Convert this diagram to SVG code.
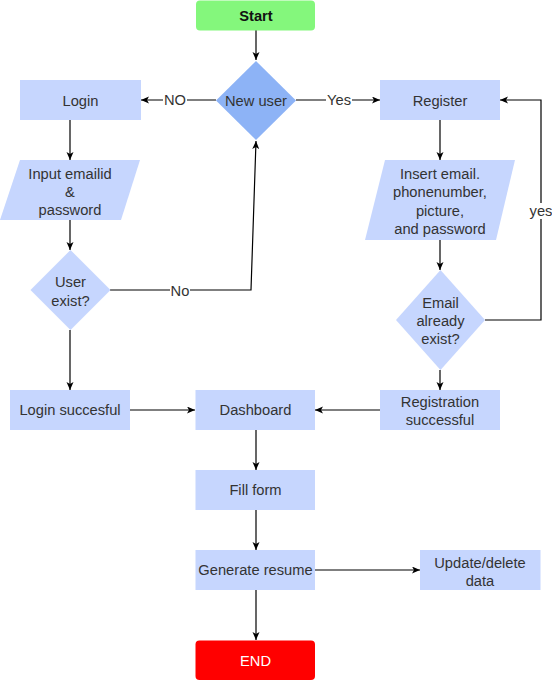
<svg xmlns="http://www.w3.org/2000/svg" width="552" height="681" viewBox="0 0 552 681">
<defs>
<marker id="ah" markerUnits="userSpaceOnUse" markerWidth="10" markerHeight="8" refX="8" refY="3.5" orient="auto">
<path d="M0,0 L8,3.5 L0,7 L2,3.5 Z" fill="#000"/>
</marker>
<style>
.box{fill:#C6D6FE;stroke:none}
.dk{fill:#8DB3F6;stroke:none}
.t{font-family:"Liberation Sans",Arial,sans-serif;font-size:14.7px;fill:#333;text-anchor:middle}
.c{fill:none;stroke:#000;stroke-width:1.2;marker-end:url(#ah)}
.cn{fill:none;stroke:#000;stroke-width:1.2}
.lb{fill:#fff}
</style>
</defs>
<rect width="552" height="681" fill="#fff"/>
<g id="connectors">
<path class="c" d="M256,30 L256,60"/>
<path class="c" d="M216,100 L141,100"/>
<path class="c" d="M296,100 L380,100"/>
<path class="c" d="M70,120 L70,160"/>
<path class="c" d="M70,220 L70,250"/>
<path class="c" d="M110,290 L251,290 L256,141"/>
<path class="c" d="M70,330 L70,390"/>
<path class="c" d="M440,120 L440,160"/>
<path class="c" d="M440,240 L440,270"/>
<path class="c" d="M485,320 L541,320 L541,100 L500,100"/>
<path class="c" d="M440,370 L440,390"/>
<path class="c" d="M130,410 L195,410"/>
<path class="c" d="M380,410 L315,410"/>
<path class="c" d="M256,430 L256,470"/>
<path class="c" d="M256,510 L256,550"/>
<path class="c" d="M315,570 L420,570"/>
<path class="c" d="M256,590 L256,640"/>
<rect class="lb" x="163" y="92" width="24" height="16"/>
<text class="t" x="175" y="105">NO</text>
<rect class="lb" x="326" y="92" width="26" height="16"/>
<text class="t" x="339" y="105">Yes</text>
<rect class="lb" x="170" y="282" width="20" height="16"/>
<text class="t" x="180" y="296">No</text>
<rect class="lb" x="529" y="203" width="24" height="16"/>
<text class="t" x="541" y="216">yes</text>
</g>
<g id="start">
<rect x="196" y="0.5" width="119" height="30" rx="4" fill="#84F77C"/>
<text class="t" x="256" y="21" style="font-weight:bold;fill:#111">Start</text>
</g>
<g id="newuser">
<polygon class="dk" points="256,61 296,100.5 256,140 216,100.5"/>
<text class="t" x="256" y="106">New user</text>
</g>
<g id="login">
<rect class="box" x="20" y="80" width="121" height="40"/>
<text class="t" x="80.5" y="106">Login</text>
</g>
<g id="register">
<rect class="box" x="380" y="80" width="120" height="40"/>
<text class="t" x="440" y="106">Register</text>
</g>
<g id="input">
<polygon class="box" points="20,160 140,160 121,220 0,220"/>
<text class="t" x="70" y="179">Input emailid</text>
<text class="t" x="70" y="197">&amp;</text>
<text class="t" x="70" y="215">password</text>
</g>
<g id="insert">
<polygon class="box" points="385,160 515,160 496,240 365,240"/>
<text class="t" x="440" y="178.5">Insert email.</text>
<text class="t" x="440" y="197">phonenumber,</text>
<text class="t" x="440" y="216">picture,</text>
<text class="t" x="440" y="234">and password</text>
</g>
<g id="userexist">
<polygon class="box" points="70.5,250 110.5,290 70.5,330 30.5,290"/>
<text class="t" x="70.5" y="287">User</text>
<text class="t" x="70.5" y="306">exist?</text>
</g>
<g id="emailexist">
<polygon class="box" points="440.5,270 485,320 440.5,370 396,320"/>
<text class="t" x="440.5" y="308">Email</text>
<text class="t" x="440.5" y="326">already</text>
<text class="t" x="440.5" y="344">exist?</text>
</g>
<g id="loginsuccess">
<rect class="box" x="10" y="390" width="120" height="40"/>
<text class="t" x="70" y="415">Login succesful</text>
</g>
<g id="dashboard">
<rect class="box" x="195.5" y="390" width="119.5" height="40"/>
<text class="t" x="255.5" y="415">Dashboard</text>
</g>
<g id="regsuccess">
<rect class="box" x="380" y="390" width="120" height="40"/>
<text class="t" x="440" y="407">Registration</text>
<text class="t" x="440" y="425">successful</text>
</g>
<g id="fillform">
<rect class="box" x="195.5" y="470" width="119.5" height="40"/>
<text class="t" x="255.5" y="495">Fill form</text>
</g>
<g id="generate">
<rect class="box" x="195.5" y="550" width="119.5" height="40"/>
<text class="t" x="255.5" y="575">Generate resume</text>
</g>
<g id="update">
<rect class="box" x="420" y="550" width="120.5" height="40"/>
<text class="t" x="480" y="567.5">Update/delete</text>
<text class="t" x="480" y="585.5">data</text>
</g>
<g id="end">
<rect x="195.5" y="640.5" width="119.5" height="39.5" rx="4" fill="#FF0000"/>
<text class="t" x="255.5" y="666" style="fill:#fff">END</text>
</g>
</svg>
